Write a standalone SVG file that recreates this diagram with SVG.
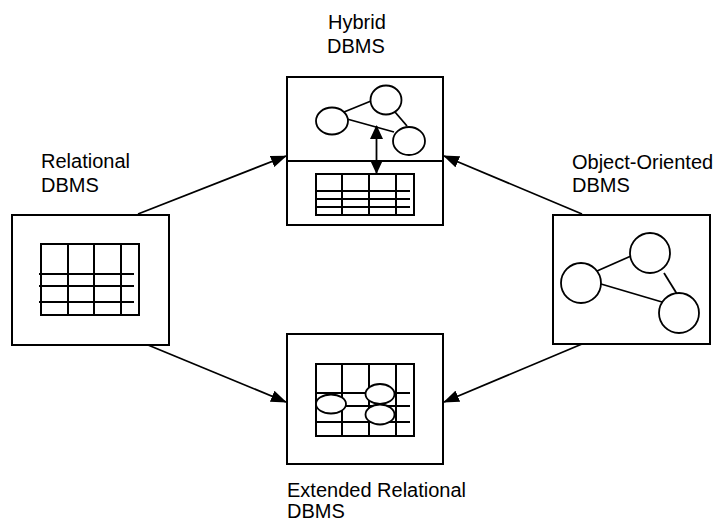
<svg xmlns="http://www.w3.org/2000/svg" width="722" height="523" viewBox="0 0 722 523">
  <style>
    .box { fill: #fff; stroke: #000; stroke-width: 2; }
    .grid { fill: none; stroke: #000; stroke-width: 2; }
    .obj { fill: #fff; stroke: #000; stroke-width: 1.8; }
    .link { fill: none; stroke: #000; stroke-width: 1.8; }
    .conn { fill: none; stroke: #000; stroke-width: 1.8; marker-end: url(#arrow); }
    .label { font-family: "Liberation Sans", Arial, sans-serif; font-size: 20px; fill: #000; }
  </style>
  <defs>
    <marker id="arrow" viewBox="0 0 16 12" refX="15" refY="6" markerWidth="16" markerHeight="12" markerUnits="userSpaceOnUse" orient="auto">
      <path d="M0,0 L16,6 L0,12 z" fill="#000"/>
    </marker>
    <marker id="arrowSmall" viewBox="0 0 14 13" refX="13" refY="6.5" markerWidth="14" markerHeight="13" markerUnits="userSpaceOnUse" orient="auto-start-reverse">
      <path d="M0,0 L14,6.5 L0,13 z" fill="#000"/>
    </marker>
  </defs>

  <!-- connectors between the four DBMS kinds -->
  <g id="connectors">
    <line class="conn" x1="138" y1="214" x2="286" y2="156"/>
    <line class="conn" x1="582" y1="214" x2="444" y2="156"/>
    <line class="conn" x1="148" y1="345" x2="286" y2="402"/>
    <line class="conn" x1="582" y1="344" x2="444" y2="402"/>
  </g>

  <!-- Relational DBMS: a plain table -->
  <g id="relational">
    <text class="label"><tspan x="41" y="168">Relational</tspan><tspan x="41" y="192">DBMS</tspan></text>
    <rect class="box" x="12" y="215" width="157" height="130"/>
    <path class="grid" d="M41,244 H139 V315 H41 Z M68,244 V315 M94,244 V315 M121,244 V315 M39,274 H134 M39,286 H134 M39,302 H134"/>
  </g>

  <!-- Hybrid DBMS: object layer over a relational store -->
  <g id="hybrid">
    <text class="label"><tspan x="328" y="29">Hybrid</tspan><tspan x="327" y="53">DBMS</tspan></text>
    <rect class="box" x="287" y="77" width="156" height="148"/>
    <line class="link" x1="287" y1="161" x2="443" y2="161"/>
    <line class="link" x1="344" y1="112" x2="371" y2="101"/>
    <line class="link" x1="347" y1="119" x2="394" y2="132"/>
    <line class="link" x1="395" y1="112" x2="407" y2="126"/>
    <ellipse class="obj" cx="332" cy="121" rx="16" ry="13.5"/>
    <ellipse class="obj" cx="386" cy="100" rx="15.5" ry="14.5"/>
    <ellipse class="obj" cx="409" cy="141" rx="16" ry="14"/>
    <path class="grid" d="M316,174 H414 V215 H316 Z M342,174 V215 M369,174 V215 M396,174 V215 M316,191 H410 M316,199 H410 M316,207 H410"/>
    <line x1="376.5" y1="126" x2="376.5" y2="173" stroke="#000" stroke-width="1.8" marker-start="url(#arrowSmall)" marker-end="url(#arrowSmall)"/>
  </g>

  <!-- Object-Oriented DBMS: linked objects -->
  <g id="object-oriented">
    <text class="label"><tspan x="572" y="169">Object-Oriented</tspan><tspan x="572" y="192">DBMS</tspan></text>
    <rect class="box" x="553" y="215" width="157" height="129"/>
    <line class="link" x1="597" y1="271" x2="631" y2="256"/>
    <line class="link" x1="601" y1="284" x2="662" y2="302"/>
    <line class="link" x1="664" y1="273" x2="677" y2="294"/>
    <circle class="obj" cx="581" cy="283" r="20"/>
    <circle class="obj" cx="650" cy="253" r="20"/>
    <circle class="obj" cx="679" cy="313" r="20"/>
  </g>

  <!-- Extended Relational DBMS: objects stored inside the table -->
  <g id="extended-relational">
    <rect class="box" x="287" y="334" width="156" height="130"/>
    <path class="grid" d="M316,364 H414 V436 H316 Z M342,364 V436 M369,364 V436 M396,364 V436 M316,393 H410 M316,406 H410 M316,422 H410"/>
    <ellipse class="obj" cx="331" cy="404" rx="15" ry="9.5"/>
    <ellipse class="obj" cx="380" cy="394" rx="14.5" ry="10"/>
    <ellipse class="obj" cx="380" cy="414.5" rx="14.5" ry="10"/>
    <text class="label"><tspan x="287" y="497">Extended Relational</tspan><tspan x="287" y="518">DBMS</tspan></text>
  </g>
</svg>
